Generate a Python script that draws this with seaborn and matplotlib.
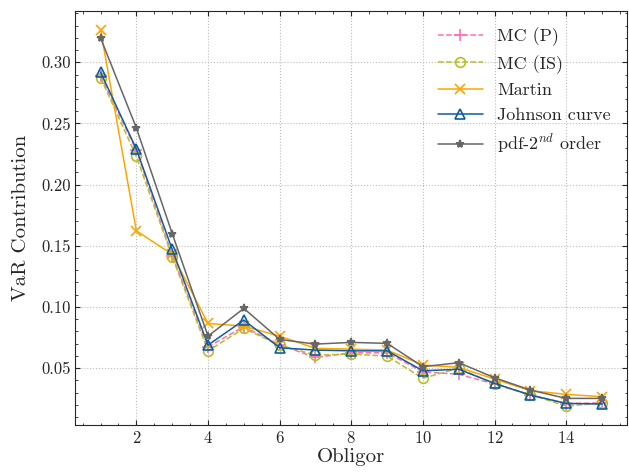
import numpy as np
import pandas as pd
import seaborn as sns
import matplotlib
matplotlib.use("Agg")
import matplotlib.pyplot as plt
from matplotlib.ticker import MultipleLocator

obligor = list(range(1, 16))
mc_p = [0.289, 0.228, 0.142, 0.0674, 0.0838, 0.069, 0.0587, 0.0625, 0.0625, 0.047, 0.0449, 0.037, 0.028, 0.021, 0.0215]
mc_is = [0.2875, 0.223, 0.141, 0.0641, 0.0824, 0.0688, 0.0606, 0.0614, 0.0598, 0.0416, 0.050, 0.037, 0.0282, 0.019, 0.0215]
martin = [0.3267, 0.1622, 0.143, 0.0865, 0.0843, 0.0761, 0.0661, 0.0655, 0.0647, 0.0525, 0.0506, 0.041, 0.0315, 0.0285, 0.0266]
johnson = [0.292, 0.229, 0.147, 0.0688, 0.0892, 0.0666, 0.0647, 0.0641, 0.0641, 0.0478, 0.049, 0.0375, 0.0279, 0.0211, 0.0206]
pdf2 = [0.320, 0.2463, 0.160, 0.0761, 0.0988, 0.0734, 0.0696, 0.071, 0.0702, 0.0511, 0.0544, 0.0421, 0.032, 0.0252, 0.0252]

sns.set_style("ticks")
plt.rcParams.update({
    "font.family": "serif",
    "font.serif": ["cmr10"],
    "mathtext.fontset": "cm",
    "axes.formatter.use_mathtext": True,
    "axes.unicode_minus": False,
    "xtick.direction": "in",
    "ytick.direction": "in",
    "xtick.top": True,
    "ytick.right": True,
    "xtick.minor.visible": True,
    "ytick.minor.visible": True,
    "xtick.major.size": 3.5,
    "ytick.major.size": 3.5,
    "xtick.minor.size": 1.8,
    "ytick.minor.size": 1.8,
    "axes.linewidth": 0.8,
})

fig, ax = plt.subplots(figsize=(6.29, 4.72), dpi=100)

series = [
    ("MC (P)", mc_p, "#ff6eb4", dict(linestyle="--", marker="+", markersize=8)),
    ("MC (IS)", mc_is, "#bcbd22", dict(linestyle="--", marker="o", markersize=7, markerfacecolor="none")),
    ("Martin", martin, "#ffa500", dict(linestyle="-", marker="x", markersize=7)),
    ("Johnson curve", johnson, "#0c5da5", dict(linestyle="-", marker="^", markersize=7, markerfacecolor="none")),
    ("pdf-2$^{nd}$ order", pdf2, "#666666", dict(linestyle="-", marker="*", markersize=6)),
]

for name, vals, color, kw in series:
    df = pd.DataFrame({"Obligor": obligor, "VaR": vals})
    sns.lineplot(data=df, x="Obligor", y="VaR", ax=ax, label=name, linewidth=1.1,
                 color=color, markeredgecolor=color, markeredgewidth=1.2, **kw)

ax.xaxis.set_major_locator(MultipleLocator(2))
ax.xaxis.set_minor_locator(MultipleLocator(0.5))
ax.yaxis.set_major_locator(MultipleLocator(0.05))
ax.yaxis.set_minor_locator(MultipleLocator(0.01))
ax.yaxis.set_major_formatter(plt.FormatStrFormatter("%.2f"))
ax.grid(True, which="major", linestyle=":", color="#bbbbbb", linewidth=0.8)
ax.tick_params(labelsize=12)
ax.set_xlabel("Obligor", fontsize=15, labelpad=2)
ax.set_ylabel("VaR Contribution", fontsize=15, labelpad=8)
ax.legend(frameon=False, fontsize=13, handlelength=2.5, loc="upper right")

fig.subplots_adjust(left=0.12, right=0.997, top=0.977, bottom=0.1)
fig.savefig("out.png", dpi=100)
